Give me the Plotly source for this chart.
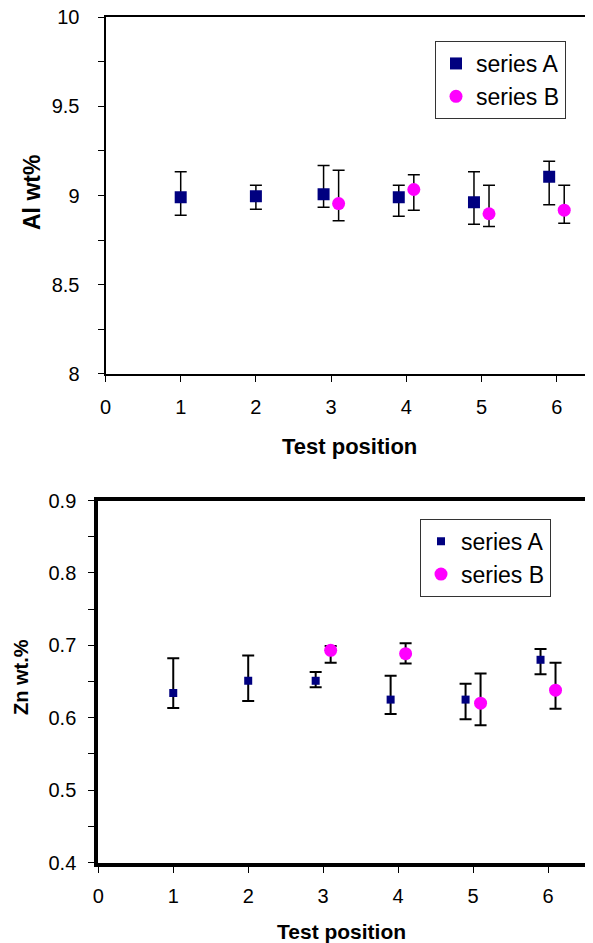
import plotly.graph_objects as go

# ---------------- data ----------------
# Top panel: Al wt%
al_a_x = [1, 2, 2.9, 3.9, 4.9, 5.9]
al_a_y = [8.99, 8.996, 9.007, 8.99, 8.962, 9.105]
al_a_hi = [9.134, 9.058, 9.168, 9.058, 9.134, 9.192]
al_a_lo = [8.890, 8.923, 8.935, 8.884, 8.839, 8.948]

al_b_x = [3.1, 4.1, 5.1, 6.1]
al_b_y = [8.955, 9.034, 8.898, 8.918]
al_b_hi = [9.142, 9.116, 9.058, 9.058]
al_b_lo = [8.858, 8.918, 8.826, 8.845]

# Bottom panel: Zn wt.%
zn_a_x = [1, 2, 2.9, 3.9, 4.9, 5.9]
zn_a_y = [0.634, 0.651, 0.651, 0.625, 0.625, 0.680]
zn_a_hi = [0.682, 0.686, 0.663, 0.658, 0.647, 0.695]
zn_a_lo = [0.6135, 0.623, 0.642, 0.605, 0.598, 0.660]

zn_b_x = [3.1, 4.1, 5.1, 6.1]
zn_b_y = [0.693, 0.6885, 0.620, 0.638]
zn_b_hi = [0.699, 0.703, 0.661, 0.676]
zn_b_lo = [0.676, 0.675, 0.5895, 0.6125]

series_names = ["series A", "series B"]
x_ticks = [0, 1, 2, 3, 4, 5, 6]

NAVY = "#000080"
MAGENTA = "#FF00FF"
FONT = "Liberation Sans, Arial, sans-serif"

# page body has an 8px margin; figure sized to fill the rest of the window
OFF = 8
W, H = 593 - OFF, 943 - OFF


def px_x(p):
    return (p - OFF) / W


def px_y(p):
    return 1 - (p - OFF) / H


def err(y, hi, lo, thick):
    return dict(type="data", symmetric=False,
                array=[h - v for h, v in zip(hi, y)],
                arrayminus=[v - l for v, l in zip(y, lo)],
                color="black", thickness=thick, width=6)


fig = go.Figure()

fig.add_trace(go.Scatter(x=al_a_x, y=al_a_y, mode="markers", name=series_names[0],
                         marker=dict(symbol="square", size=12, color=NAVY),
                         error_y=err(al_a_y, al_a_hi, al_a_lo, 1.5),
                         xaxis="x", yaxis="y", legend="legend"))
fig.add_trace(go.Scatter(x=al_b_x, y=al_b_y, mode="markers", name=series_names[1],
                         marker=dict(symbol="circle", size=13, color=MAGENTA),
                         error_y=err(al_b_y, al_b_hi, al_b_lo, 1.5),
                         xaxis="x", yaxis="y", legend="legend"))
fig.add_trace(go.Scatter(x=zn_a_x, y=zn_a_y, mode="markers", name=series_names[0],
                         marker=dict(symbol="square", size=8, color=NAVY),
                         error_y=err(zn_a_y, zn_a_hi, zn_a_lo, 2),
                         xaxis="x2", yaxis="y2", legend="legend2"))
fig.add_trace(go.Scatter(x=zn_b_x, y=zn_b_y, mode="markers", name=series_names[1],
                         marker=dict(symbol="circle", size=13, color=MAGENTA),
                         error_y=err(zn_b_y, zn_b_hi, zn_b_lo, 2),
                         xaxis="x2", yaxis="y2", legend="legend2"))

# pixel geometry (page pixels) -> domains
top_l, top_t, top_b = 105.5, 17.3, 373.8
top_xmax = (593 - top_l) / 75.2
bot_l, bot_r, bot_t, bot_b = 98.3, 585.5, 500.5, 862.5

tickfont = dict(family=FONT, size=20, color="black")

fig.update_layout(
    width=W, height=H,
    margin=dict(l=0, r=0, t=0, b=0, autoexpand=False),
    paper_bgcolor="white", plot_bgcolor="white",
    font=dict(family=FONT, color="black"),
    xaxis=dict(domain=[px_x(top_l), 1.0], anchor="y", range=[0, top_xmax],
               tickmode="array", tickvals=x_ticks, ticks="outside", ticklen=6,
               tickcolor="black", tickwidth=1, showline=True, linecolor="black",
               linewidth=2, mirror=True, showgrid=False, zeroline=False,
               tickfont=tickfont, ticklabelstandoff=8, automargin=False,
               ticklabeloverflow="allow"),
    yaxis=dict(domain=[px_y(top_b), px_y(top_t)], anchor="x", range=[8, 10],
               dtick=0.5, tick0=8, ticks="outside", ticklen=6, tickcolor="black",
               tickwidth=1, showline=True, linecolor="black", linewidth=2,
               mirror=False, showgrid=False, zeroline=False, tickfont=tickfont,
               minor=dict(dtick=0.25, ticks="outside", ticklen=6, tickcolor="black",
                          tickwidth=1, showgrid=False),
               ticklabelstandoff=14, automargin=False, ticklabeloverflow="allow"),
    xaxis2=dict(domain=[px_x(bot_l), px_x(bot_r)], anchor="y2", range=[0, 6.5],
                tickmode="array", tickvals=x_ticks, ticks="outside", ticklen=6,
                tickcolor="black", tickwidth=1, showline=True, linecolor="black",
                linewidth=4, mirror=True, showgrid=False, zeroline=False,
                tickfont=tickfont, ticklabelstandoff=6, automargin=False,
                ticklabeloverflow="allow"),
    yaxis2=dict(domain=[px_y(bot_b), px_y(bot_t)], anchor="x2", range=[0.4, 0.9],
                dtick=0.1, tick0=0.4, ticks="outside", ticklen=6, tickcolor="black",
                tickwidth=1, showline=True, linecolor="black", linewidth=4,
                mirror=True, showgrid=False, zeroline=False, tickfont=tickfont,
                tickformat=".1f",
                minor=dict(dtick=0.05, ticks="outside", ticklen=6, tickcolor="black",
                           tickwidth=1, showgrid=False),
                ticklabelstandoff=8, automargin=False, ticklabeloverflow="allow"),
    legend=dict(x=px_x(566), y=px_y(41), xanchor="right", yanchor="top",
                bgcolor="white", bordercolor="#333333", borderwidth=1,
                font=dict(family=FONT, size=23, color="black"),
                itemwidth=30, tracegroupgap=0),
    legend2=dict(x=px_x(551), y=px_y(518.7), xanchor="right", yanchor="top",
                 bgcolor="white", bordercolor="#333333", borderwidth=1,
                 font=dict(family=FONT, size=23, color="black"),
                 itemwidth=30, tracegroupgap=0),
    showlegend=True,
)

annotations = [
    dict(text="<b>Test position</b>", x=px_x((top_l + 593) / 2), y=px_y(446),
         xref="paper", yref="paper", showarrow=False, xanchor="center", yanchor="middle",
         font=dict(family=FONT, size=22, color="black")),
    dict(text="<b>Al wt%</b>", x=px_x(32), y=px_y(193), textangle=-90,
         xref="paper", yref="paper", showarrow=False, xanchor="center", yanchor="middle",
         font=dict(family=FONT, size=23, color="black")),
    dict(text="<b>Test position</b>", x=px_x((bot_l + bot_r) / 2), y=px_y(931),
         xref="paper", yref="paper", showarrow=False, xanchor="center", yanchor="middle",
         font=dict(family=FONT, size=21, color="black")),
    dict(text="<b>Zn wt.%</b>", x=px_x(21), y=px_y(677), textangle=-90,
         xref="paper", yref="paper", showarrow=False, xanchor="center", yanchor="middle",
         font=dict(family=FONT, size=20, color="black")),
]
fig.update_layout(annotations=annotations)

fig.write_html("out.html")
